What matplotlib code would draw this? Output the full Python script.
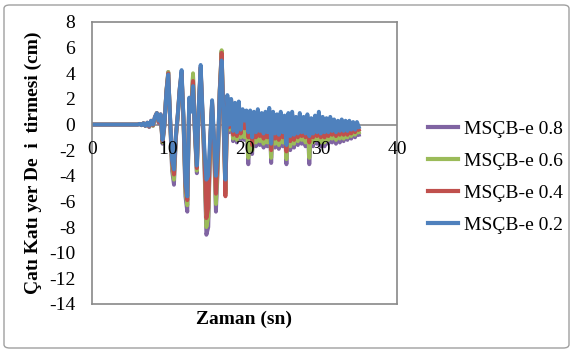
import numpy as np
import matplotlib
matplotlib.use("Agg")
import matplotlib.pyplot as plt
from matplotlib.patches import FancyBboxPatch

plt.rcParams['font.family'] = ['Liberation Serif', 'DejaVu Serif']

# time axis (s): one point at start, then 0.25 s steps from 6 to 35
time = np.concatenate([[0.0], np.arange(6.0, 35.01, 0.25)])

# roof displacement (cm)
e02 = [0.0,
       0.0, 0.05, -0.05, 0.1, -0.1, 0.15, -0.1, 0.3,
       0.0, 0.6, 0.9, 0.3, 0.8, -1.2, 0.0, 2.5,
       3.9, 0.5, -2.8, -3.5, -0.8, 0.8, 2.8, 4.25,
       0.5, -4.5, -5.6, 2.1, 1.0, 3.0, -0.5, -3.2,
       1.5, 4.65, 1.0, -2.0, -4.3, -4.0, -1.0, 1.9,
       -1.0, -4.0, -2.0, 2.5, 5.0, 0.5, -4.3, 2.3,
       0.0, 2.0, -0.5, 1.7, -0.6, 1.8, -0.4, 1.2,
       0.3, 1.1, -0.6, 1.1, -1.0, 1.0, -0.6, 1.2,
       -0.5, 0.9, -0.7, 1.0, -0.6, 1.3, -1.5, 1.0,
       -0.7, 0.8, -0.8, 1.0, -0.6, 0.7, -1.6, 0.9,
       -0.9, 1.0, -0.8, 0.6, -0.7, 0.9, -0.6, 0.6,
       -0.7, 0.8, -0.9, 0.5, -0.7, 0.7, -0.6, 1.0,
       -0.7, 0.6, -0.6, 0.5, -0.6, 0.6, -0.5, 0.4,
       -0.6, 0.3, -0.5, 0.4, -0.5, 0.3, -0.5, 0.3,
       -0.4, 0.2, -0.4, 0.2, -0.2]

e04 = [0.0,
       0.0, 0.05, -0.05, 0.1, -0.1, 0.15, -0.15, 0.3,
       -0.05, 0.6, 0.9, 0.2, 0.8, -1.3, 0.0, 2.5,
       4.0, 0.4, -3.0, -3.9, -0.9, 0.8, 2.8, 4.1,
       0.4, -4.8, -5.9, 2.0, 1.1, 3.4, -0.6, -3.4,
       1.4, 4.5, 0.8, -2.5, -7.3, -6.5, -1.2, 1.8,
       -1.3, -5.4, -2.5, 2.6, 5.6, 0.3, -5.6, 2.1,
       -0.2, 1.9, -0.8, 1.6, -0.9, 1.6, -0.7, 1.0,
       -0.3, 0.9, -1.0, 0.9, -1.6, 0.8, -1.0, 1.0,
       -0.9, 0.7, -1.1, 0.8, -1.0, 1.1, -2.0, 0.8,
       -1.1, 0.6, -1.2, 0.8, -1.0, 0.5, -2.1, 0.7,
       -1.3, 0.8, -1.2, 0.4, -1.0, 0.7, -0.9, 0.4,
       -1.0, 0.6, -1.4, 0.3, -1.0, 0.5, -0.9, 0.8,
       -1.0, 0.4, -1.0, 0.3, -0.9, 0.4, -0.8, 0.2,
       -0.9, 0.1, -0.8, 0.2, -0.8, 0.1, -0.8, 0.1,
       -0.7, 0.0, -0.6, 0.0, -0.4]

e06 = [0.0,
       0.0, 0.05, -0.05, 0.1, -0.1, 0.1, -0.15, 0.25,
       -0.1, 0.5, 0.9, 0.2, 0.7, -1.4, 0.0, 2.6,
       4.1, 0.3, -3.3, -4.3, -1.0, 0.7, 2.7, 4.0,
       0.3, -5.2, -6.3, 2.0, 1.2, 4.0, -0.7, -3.6,
       1.3, 4.4, 0.6, -3.0, -8.0, -7.2, -1.4, 1.7,
       -1.6, -6.2, -3.0, 2.7, 5.8, 0.2, -5.4, 2.0,
       -0.4, 1.8, -1.1, 1.5, -1.2, 1.5, -1.0, 0.9,
       -1.0, 0.8, -2.6, 0.8, -2.0, 0.7, -1.4, 0.8,
       -1.3, 0.6, -1.5, 0.7, -1.4, 1.0, -2.6, 0.7,
       -1.5, 0.5, -1.6, 0.7, -1.4, 0.4, -2.7, 0.6,
       -1.7, 0.7, -1.5, 0.3, -1.3, 0.6, -1.2, 0.3,
       -1.4, 0.5, -2.6, 0.2, -1.4, 0.4, -1.2, 0.7,
       -1.4, 0.3, -1.4, 0.2, -1.2, 0.3, -1.1, 0.1,
       -1.2, 0.0, -1.1, 0.1, -1.1, 0.0, -1.0, 0.0,
       -0.9, -0.1, -0.8, -0.1, -0.6]

e08 = [0.0,
       0.0, 0.05, -0.05, 0.1, -0.1, 0.1, -0.2, 0.2,
       -0.1, 0.5, 0.8, 0.1, 0.7, -1.5, -0.1, 2.6,
       4.1, 0.2, -3.6, -4.7, -1.1, 0.6, 2.6, 3.9,
       0.2, -5.6, -6.8, 1.9, 1.2, 3.8, -0.8, -3.8,
       1.2, 4.3, 0.4, -3.4, -8.6, -8.0, -1.6, 1.6,
       -1.8, -6.8, -3.4, 2.7, 5.7, 0.1, -5.2, 1.9,
       -0.6, 1.7, -1.3, 1.4, -1.4, 1.4, -1.2, 0.8,
       -1.2, 0.7, -3.1, 0.7, -2.3, 0.6, -1.7, 0.7,
       -1.6, 0.5, -1.8, 0.6, -1.7, 0.9, -3.0, 0.6,
       -1.8, 0.4, -1.9, 0.6, -1.7, 0.3, -3.1, 0.5,
       -2.0, 0.6, -1.8, 0.2, -1.6, 0.5, -1.5, 0.2,
       -1.7, 0.4, -3.1, 0.1, -1.7, 0.3, -1.5, 0.6,
       -1.7, 0.2, -1.7, 0.1, -1.5, 0.2, -1.4, 0.0,
       -1.5, -0.1, -1.4, 0.0, -1.3, -0.1, -1.2, -0.1,
       -1.1, -0.2, -1.0, -0.2, -0.8]

labels = ['MSÇB-e 0.8', 'MSÇB-e 0.6', 'MSÇB-e 0.4', 'MSÇB-e 0.2']
colors = ['#8064A2', '#9BBB59', '#C0504D', '#4F81BD']
x_ticks = [0, 10, 20, 30, 40]
y_ticks = list(range(-14, 9, 2))

fig = plt.figure(figsize=(5.73, 3.52), dpi=100)
fig.patches.append(FancyBboxPatch((4 / 573, 4 / 352), 565 / 573, 343 / 352,
                                  boxstyle='round,pad=0,rounding_size=0.01',
                                  transform=fig.transFigure, fc='white',
                                  ec='#a0a0a0', lw=1, zorder=-1))

ax = fig.add_axes([92 / 573, 1 - 304 / 352, 305 / 573, 282 / 352])
ax.set_facecolor('none')

grey = '#898989'
ax.axhline(0, color=grey, lw=1.2, zorder=1)
for s, c, lab in zip([e08, e06, e04, e02], colors, labels):
    ax.plot(time, s, color=c, lw=2.8, label=lab, zorder=2)

ax.set_xlim(0, 40)
ax.set_ylim(-14, 8)
ax.set_yticks(y_ticks)
ax.set_yticklabels([str(v) for v in y_ticks], fontsize=14)
ax.set_xticks([])
ax.tick_params(axis='y', length=0, pad=12)
for sp in ax.spines.values():
    sp.set_color(grey)
    sp.set_linewidth(1.2)

for v in x_ticks:
    ax.annotate(str(v), (v, 0), xytext=(0, -18), textcoords='offset points',
                ha='center', va='center', fontsize=14, zorder=3)

ax.set_xlabel('Zaman (sn)', fontsize=14, fontweight='bold', labelpad=5)
ax.set_ylabel('Çatı Katı yer De  i  tirmesi (cm)', fontsize=14,
              fontweight='bold', labelpad=5)

fig.legend(loc='upper left', bbox_to_anchor=(428 / 573, 1 - 120 / 352),
           frameon=False, fontsize=14, handlelength=1.55, handletextpad=0.3,
           labelspacing=0.75, borderpad=0, borderaxespad=0)
for line in fig.legends[0].get_lines():
    line.set_linewidth(3)

fig.savefig('out.png', dpi=100)
